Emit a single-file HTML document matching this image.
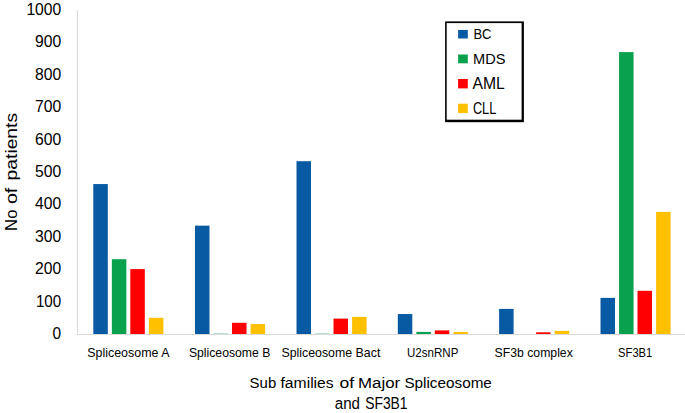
<!DOCTYPE html>
<html><head><meta charset="utf-8"><title>Sub families of Major Spliceosome and SF3B1</title>
<style>
html,body{margin:0;padding:0;background:#fff;}
body{width:685px;height:413px;overflow:hidden;}
svg{display:block;font-family:"Liberation Sans",sans-serif;}
</style></head><body>
<svg width="685" height="413" viewBox="0 0 685 413">
<rect width="685" height="413" fill="#ffffff"/>
<rect x="77" y="10" width="1" height="324.5" fill="#d9d9d9"/>
<rect x="77" y="334" width="608" height="1" fill="#d9d9d9"/>
<rect x="93.30" y="184.05" width="14.5" height="149.95" fill="#085aa3"/>
<rect x="111.85" y="259.20" width="14.5" height="74.80" fill="#09a14d"/>
<rect x="130.30" y="269.10" width="14.5" height="64.90" fill="#fe0000"/>
<rect x="148.90" y="317.80" width="14.5" height="16.20" fill="#ffc000"/>
<rect x="195.00" y="225.65" width="14.5" height="108.35" fill="#085aa3"/>
<rect x="213.55" y="333.20" width="14.5" height="0.80" fill="#09a14d" opacity="0.35"/>
<rect x="232.00" y="322.80" width="14.5" height="11.20" fill="#fe0000"/>
<rect x="250.60" y="324.10" width="14.5" height="9.90" fill="#ffc000"/>
<rect x="296.50" y="161.20" width="14.5" height="172.80" fill="#085aa3"/>
<rect x="315.05" y="333.20" width="14.5" height="0.80" fill="#09a14d" opacity="0.35"/>
<rect x="333.50" y="318.60" width="14.5" height="15.40" fill="#fe0000"/>
<rect x="352.10" y="316.90" width="14.5" height="17.10" fill="#ffc000"/>
<rect x="397.80" y="314.05" width="14.5" height="19.95" fill="#085aa3"/>
<rect x="416.35" y="331.90" width="14.5" height="2.10" fill="#09a14d"/>
<rect x="434.80" y="330.40" width="14.5" height="3.60" fill="#fe0000"/>
<rect x="453.40" y="331.90" width="14.5" height="2.10" fill="#ffc000"/>
<rect x="499.10" y="308.90" width="14.5" height="25.10" fill="#085aa3"/>
<rect x="536.10" y="332.30" width="14.5" height="1.70" fill="#fe0000"/>
<rect x="554.70" y="330.90" width="14.5" height="3.10" fill="#ffc000"/>
<rect x="600.50" y="297.90" width="14.5" height="36.10" fill="#085aa3"/>
<rect x="619.05" y="52.10" width="14.5" height="281.90" fill="#09a14d"/>
<rect x="637.50" y="290.80" width="14.5" height="43.20" fill="#fe0000"/>
<rect x="656.10" y="211.90" width="14.5" height="122.10" fill="#ffc000"/>
<text transform="translate(52.60,339.30) scale(0.9815,1)" font-size="15.76" fill="#000">0</text>
<text transform="translate(35.90,306.84) scale(0.9625,1)" font-size="15.76" fill="#000">100</text>
<text transform="translate(35.00,274.38) scale(0.9967,1)" font-size="15.76" fill="#000">200</text>
<text transform="translate(35.00,241.92) scale(0.9967,1)" font-size="15.76" fill="#000">300</text>
<text transform="translate(35.00,209.46) scale(0.9967,1)" font-size="15.76" fill="#000">400</text>
<text transform="translate(35.00,177.00) scale(0.9967,1)" font-size="15.76" fill="#000">500</text>
<text transform="translate(35.00,144.54) scale(0.9967,1)" font-size="15.76" fill="#000">600</text>
<text transform="translate(35.00,112.08) scale(0.9967,1)" font-size="15.76" fill="#000">700</text>
<text transform="translate(35.00,79.62) scale(0.9967,1)" font-size="15.76" fill="#000">800</text>
<text transform="translate(35.00,47.16) scale(0.9967,1)" font-size="15.76" fill="#000">900</text>
<text transform="translate(26.40,14.70) scale(0.9925,1)" font-size="15.76" fill="#000">1000</text>
<text transform="translate(87.30,357.00) scale(0.9499,1)" font-size="13.08" fill="#000">Spliceosome A</text>
<text transform="translate(188.90,357.00) scale(0.9341,1)" font-size="13.08" fill="#000">Spliceosome B</text>
<text transform="translate(281.40,357.00) scale(0.9455,1)" font-size="13.08" fill="#000">Spliceosome Bact</text>
<text transform="translate(407.00,357.00) scale(0.8838,1)" font-size="13.08" fill="#000">U2snRNP</text>
<text transform="translate(494.60,357.00) scale(0.9364,1)" font-size="13.08" fill="#000">SF3b complex</text>
<text transform="translate(618.10,357.00) scale(0.8552,1)" font-size="13.08" fill="#000">SF3B1</text>
<text transform="translate(249.60,387.50) scale(0.9834,1)" font-size="15.26" fill="#000">Sub</text>
<text transform="translate(280.50,387.50) scale(1.0283,1)" font-size="15.26" fill="#000">families</text>
<text transform="translate(339.50,387.50) scale(1.1522,1)" font-size="15.26" fill="#000">of</text>
<text transform="translate(358.00,387.50) scale(1.1056,1)" font-size="15.26" fill="#000">Major</text>
<text transform="translate(404.40,387.50) scale(1.0015,1)" font-size="15.26" fill="#000">Spliceosome</text>
<text transform="translate(334.70,408.90) scale(0.9662,1)" font-size="15.70" fill="#000">and</text>
<text transform="translate(365.20,408.90) scale(0.8836,1)" font-size="15.70" fill="#000">SF3B1</text>
<text transform="translate(17.10,230.90) rotate(-90) scale(0.9971,1)" font-size="16.72" fill="#000">No</text>
<text transform="translate(17.10,204.10) rotate(-90) scale(1.1808,1)" font-size="16.72" fill="#000">of</text>
<text transform="translate(17.10,180.40) rotate(-90) scale(1.1531,1)" font-size="16.72" fill="#000">patients</text>
<rect x="445.1" y="21.4" width="78.8" height="100.8" fill="#000"/>
<rect x="446.7" y="23.1" width="74.9" height="96.6" fill="#fff"/>
<rect x="458.1" y="29.95" width="9.7" height="8.55" fill="#085aa3"/>
<text transform="translate(473.40,38.85) scale(0.8491,1)" font-size="15.26" fill="#000">BC</text>
<rect x="458.1" y="54.50" width="9.7" height="8.80" fill="#09a14d"/>
<text transform="translate(473.10,63.80) scale(0.9554,1)" font-size="15.26" fill="#000">MDS</text>
<rect x="458.1" y="79.00" width="9.7" height="9.40" fill="#fe0000"/>
<text transform="translate(472.50,88.75) scale(1.0054,1)" font-size="15.63" fill="#000">AML</text>
<rect x="458.1" y="103.70" width="9.7" height="9.40" fill="#ffc000"/>
<text transform="translate(472.90,113.70) scale(0.8166,1)" font-size="15.63" fill="#000">CLL</text>
</svg>
</body></html>
